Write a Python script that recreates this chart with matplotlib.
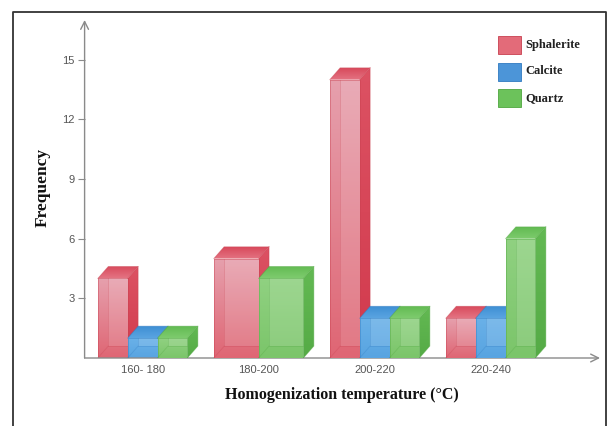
import numpy as np
import matplotlib.pyplot as plt
from matplotlib.patches import Polygon, Rectangle
from matplotlib.colors import to_rgb
from matplotlib.lines import Line2D

# frequency of homogenization temperatures per mineral
categories = ['160- 180', '180-200', '200-220', '220-240']
sphalerite = [4, 5, 14, 2]
calcite = [1, 0, 2, 2]
quartz = [1, 4, 2, 6]
series_names = ['Sphalerite', 'Calcite', 'Quartz']

# front top/bottom, side, top face, edge colours for each series
palette = {
    'Sphalerite': dict(front=('#e6a0ad', '#df6674'), side=('#dc5263', '#d23a4d'),
                       top=('#e47382', '#d84a5c'), edge='#c8404f', legend='#e36b79'),
    'Calcite': dict(front=('#6ab1e8', '#58a4e1'), side=('#3f8fd3', '#2f7dc3'),
                    top=('#5aa4e1', '#3e8fd4'), edge='#2f7ac0', legend='#4c95d8'),
    'Quartz': dict(front=('#90d181', '#7bc56a'), side=('#63b953', '#55ab46'),
                   top=('#7ecb6e', '#62bb52'), edge='#4fa63f', legend='#6cc25b'),
}

W, H = 609, 426
fig = plt.figure(figsize=(W / 100, H / 100), dpi=100)
fig.patch.set_facecolor('white')

x0, x1, y0, y1 = 84.6, 600, 358, 20
ax = fig.add_axes([x0 / W, (H - y0) / H, (x1 - x0) / W, (y0 - y1) / H])
xmax, ymax = 4.443, 17
ax.set_xlim(0, xmax)
ax.set_ylim(0, ymax)

group_w = 0.772
dx, dy = 0.09, 0.6


def grad_poly(verts, c1, c2, z):
    # polygon filled with a vertical gradient from c1 (top) to c2 (bottom)
    patch = Polygon(verts, closed=True, facecolor='none', edgecolor='none', zorder=z)
    ax.add_patch(patch)
    xs = [v[0] for v in verts]
    ys = [v[1] for v in verts]
    t = np.linspace(0, 1, 64)[:, None]
    a, b = np.array(to_rgb(c1)), np.array(to_rgb(c2))
    img = (a * (1 - t) + b * t)[:, None, :]
    im = ax.imshow(img, extent=(min(xs), max(xs), min(ys), max(ys)), origin='upper',
                   aspect='auto', interpolation='bilinear', zorder=z)
    im.set_clip_path(patch)


def box(x, w, h, col, z):
    c = palette[col]
    # front face
    grad_poly([(x, 0), (x + w, 0), (x + w, h), (x, h)], c['front'][0], c['front'][1], z)
    # back face seen through the translucent front
    ax.add_patch(Rectangle((x + dx, dy), w - dx, h - dy, facecolor='white', alpha=0.12,
                           edgecolor='none', zorder=z + 0.1))
    ek = dict(color=c['edge'], alpha=0.3, lw=0.6, zorder=z + 0.2)
    ax.add_line(Line2D([x + dx, x + dx, x + w], [h, dy, dy], **ek))
    ax.add_line(Line2D([x, x + dx], [0, dy], **ek))
    # side face
    grad_poly([(x + w, 0), (x + w + dx, dy), (x + w + dx, h + dy), (x + w, h)],
              c['side'][0], c['side'][1], z)
    # top face
    grad_poly([(x, h), (x + w, h), (x + w + dx, h + dy), (x + dx, h + dy)],
              c['top'][1], c['top'][0], z)
    ok = dict(color=c['edge'], alpha=0.5, lw=0.6, zorder=z + 0.3)
    ax.add_line(Line2D([x, x, x + w, x + w, x], [h, 0, 0, h, h], **ok))
    ax.add_line(Line2D([x + w, x + w + dx, x + w + dx, x + w], [h, h + dy, dy, 0], **ok))
    ax.add_line(Line2D([x, x + dx, x + w + dx], [h, h + dy, h + dy], **ok))


values = [sphalerite, calcite, quartz]
z = 2
for i in range(len(categories)):
    present = [(n, v[i]) for n, v in zip(series_names, values) if v[i] > 0]
    bw = group_w / len(present)
    left = i + 0.5 - group_w / 2
    for k, (name, val) in enumerate(present):
        box(left + k * bw, bw, val, name, z)
        z += 1

# axes with arrow heads
for s in ax.spines.values():
    s.set_visible(False)
axis_col = '#8a8a8a'
ax.annotate('', xy=(xmax, 0), xytext=(0, 0), annotation_clip=False,
            arrowprops=dict(arrowstyle='->', color=axis_col, lw=1.0, mutation_scale=14,
                            shrinkA=0, shrinkB=0))
ax.annotate('', xy=(0, ymax), xytext=(0, 0), annotation_clip=False,
            arrowprops=dict(arrowstyle='->', color=axis_col, lw=1.0, mutation_scale=14,
                            shrinkA=0, shrinkB=0))

tick_font = ['Liberation Sans Narrow', 'Liberation Sans', 'DejaVu Sans']
ax.set_yticks([3, 6, 9, 12, 15])
ax.set_yticklabels(['3', '6', '9', '12', '15'], family=tick_font, fontsize=8, color='#555555')
ax.set_xticks([i + 0.5 for i in range(len(categories))])
ax.set_xticklabels(categories, family=tick_font, fontsize=8, color='#555555')
ax.tick_params(axis='y', length=5, width=0.8, color=axis_col, pad=2)
ax.tick_params(axis='x', length=0, pad=5)

ax.set_xlabel('Homogenization temperature (°C)', family='Liberation Serif', fontweight='bold',
              fontsize=11.5, color='#111111', va='center')
ax.set_ylabel('Frequency', family='Liberation Serif', fontweight='bold', fontsize=12.5,
              color='#111111')
ax.xaxis.set_label_coords((342 - x0) / (x1 - x0), -(395 - y0) / (y0 - y1))
ax.yaxis.set_label_coords(-(x0 - 51) / (x1 - x0), (y0 - 187) / (y0 - y1))

# legend
for j, name in enumerate(series_names):
    ly = 36 + j * 26.5
    fig.patches.append(Rectangle((498 / W, 1 - (ly + 18) / H), 23 / W, 18 / H,
                                 transform=fig.transFigure, facecolor=palette[name]['legend'],
                                 edgecolor=palette[name]['edge'], lw=0.6))
    fig.text(525 / W, 1 - (ly + 9) / H, name, family='Liberation Serif', fontweight='bold',
             fontsize=9, va='center', ha='left', color='#222222')

# outer frame
frame = dict(color='#333333', lw=1.3, transform=fig.transFigure)
fig.lines.append(Line2D([13 / W, 13 / W, 606 / W, 606 / W],
                        [0, 1 - 12 / H, 1 - 12 / H, 0], **frame))

fig.savefig('out.png', dpi=100)
